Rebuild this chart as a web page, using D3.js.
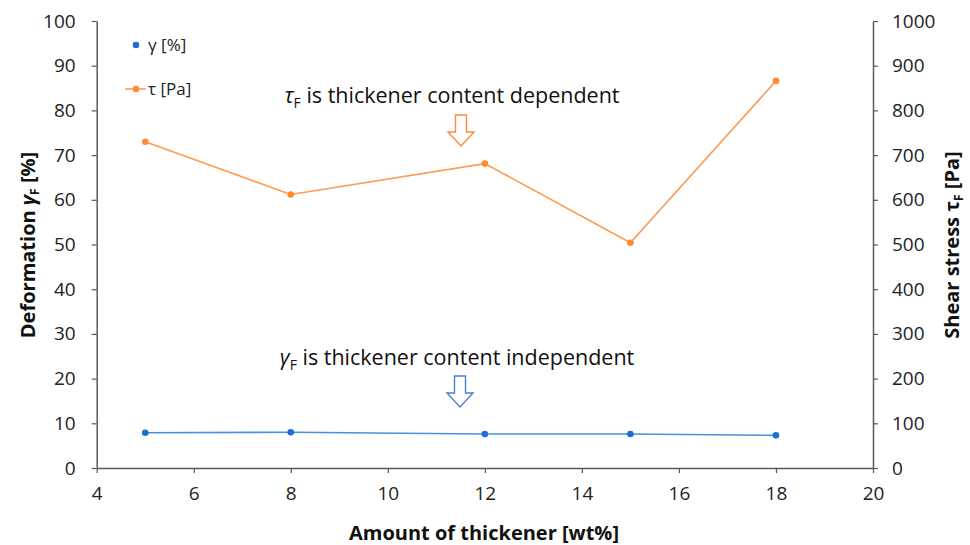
<!DOCTYPE html>
<html><head><meta charset="utf-8">
<script src="https://cdn.jsdelivr.net/npm/d3@7"></script>
<style>body{margin:0;background:#fff}svg{font-family:"Open Sans",sans-serif}</style>
</head><body><svg id="c" width="970" height="545"></svg>
<script>
const thickener = [5, 8, 12, 15, 18];
const gammaVals = [7.9, 8.0, 7.6, 7.6, 7.3];
const tauVals = [730, 612, 681, 504, 866];
const xTicks = [4, 6, 8, 10, 12, 14, 16, 18, 20];
const yLeftTicks = [0,10,20,30,40,50,60,70,80,90,100];
const yRightTicks = [0,100,200,300,400,500,600,700,800,900,1000];

const svg = d3.select("#c");
const L = 96.7, R = 873, T = 21, B = 468;
const x = d3.scaleLinear().domain([4, 20]).range([L, R]);
const yl = d3.scaleLinear().domain([0, 100]).range([B, T]);
const yr = d3.scaleLinear().domain([0, 1000]).range([B, T]);
const axCol = "#595959";
const fs = 19;

function style(g){
  g.select(".domain").attr("stroke", axCol).attr("stroke-width", 1.5);
  g.selectAll(".tick line").attr("stroke", axCol).attr("stroke-width", 1.2);
  g.selectAll(".tick text").attr("fill", "#222").style("font-size", fs+"px").style("font-family", '"Open Sans",sans-serif');
}
svg.append("g").attr("transform", `translate(0,${B})`)
  .call(d3.axisBottom(x).tickValues(xTicks).tickFormat(d3.format("d")).tickSize(5).tickPadding(14).tickSizeOuter(0)).call(style);
svg.append("g").attr("transform", `translate(${L},0)`)
  .call(d3.axisLeft(yl).tickValues(yLeftTicks).tickFormat(d3.format("d")).tickSize(5).tickPadding(16).tickSizeOuter(0)).call(style);
svg.append("g").attr("transform", `translate(${R},0)`)
  .call(d3.axisRight(yr).tickValues(yRightTicks).tickFormat(d3.format("d")).tickSize(5).tickPadding(14).tickSizeOuter(0)).call(style);

const blue = "#1c6fd1", blueLine = "#4a8fe0", orange = "#ff8a33", orangeLine = "#ff9a52";
const gData = thickener.map((t,i)=>[t, gammaVals[i]]);
const tData = thickener.map((t,i)=>[t, tauVals[i]]);
svg.append("path").datum(gData).attr("fill","none").attr("stroke",blueLine).attr("stroke-width",1.6)
  .attr("d", d3.line().x(d=>x(d[0])).y(d=>yl(d[1])));
svg.selectAll(".gp").data(gData).join("circle").attr("cx",d=>x(d[0])).attr("cy",d=>yl(d[1])).attr("r",3.3).attr("fill",blue);
svg.append("path").datum(tData).attr("fill","none").attr("stroke",orangeLine).attr("stroke-width",1.6)
  .attr("d", d3.line().x(d=>x(d[0])).y(d=>yr(d[1])));
svg.selectAll(".tp").data(tData).join("circle").attr("cx",d=>x(d[0])).attr("cy",d=>yr(d[1])).attr("r",3.3).attr("fill",orange);

// legend
svg.append("circle").attr("cx",136).attr("cy",45).attr("r",3.3).attr("fill",blue);
svg.append("text").attr("x",148).attr("y",51).text("γ [%]").style("font-size","17px").attr("fill","#222");
svg.append("line").attr("x1",125).attr("x2",146).attr("y1",89).attr("y2",89).attr("stroke",orangeLine).attr("stroke-width",1.6);
svg.append("circle").attr("cx",136).attr("cy",89).attr("r",3.3).attr("fill",orange);
svg.append("text").attr("x",148).attr("y",95).text("τ [Pa]").style("font-size","17px").attr("fill","#222");

// annotations
function ann(cx, y, sym, rest){
  const t = svg.append("text").attr("x",cx).attr("y",y).attr("text-anchor","middle").style("font-size","21.5px").attr("fill","#111");
  t.append("tspan").text(sym).style("font-style","italic");
  t.append("tspan").text("F").attr("dy",5).style("font-size","14px");
  t.append("tspan").text(" " + rest).attr("dy",-5);
}
ann(452, 103, "τ", "is thickener content dependent");
ann(457, 365, "γ", "is thickener content independent");
function arrow(cx, top, col){
  const p = `M${cx-5.5},${top} L${cx+5.5},${top} L${cx+5.5},${top+17} L${cx+13},${top+17} L${cx},${top+31} L${cx-13},${top+17} L${cx-5.5},${top+17} Z`;
  svg.append("path").attr("d",p).attr("fill","#fff").attr("stroke",col).attr("stroke-width",1.4);
}
arrow(461, 115, orange);
arrow(460, 376, "#4a7fd6");

// axis titles
const lt = svg.append("text").attr("transform","translate(35,245) rotate(-90)").attr("text-anchor","middle")
  .style("font-size","20px").style("font-weight","bold").attr("fill","#111");
lt.append("tspan").text("Deformation ");
lt.append("tspan").text("γ").style("font-style","italic");
lt.append("tspan").text("F").attr("dy",4).style("font-size","12px");
lt.append("tspan").text(" [%]").attr("dy",-4);
const rt = svg.append("text").attr("transform","translate(959,245) rotate(-90)").attr("text-anchor","middle")
  .style("font-size","20px").style("font-weight","bold").attr("fill","#111");
rt.append("tspan").text("Shear stress ");
rt.append("tspan").text("τ");
rt.append("tspan").text("F").attr("dy",4).style("font-size","12px");
rt.append("tspan").text(" [Pa]").attr("dy",-4);
svg.append("text").attr("x",484).attr("y",540).attr("text-anchor","middle").style("font-size","20px").style("font-weight","bold").attr("fill","#111").text("Amount of thickener [wt%]");
</script></body></html>
